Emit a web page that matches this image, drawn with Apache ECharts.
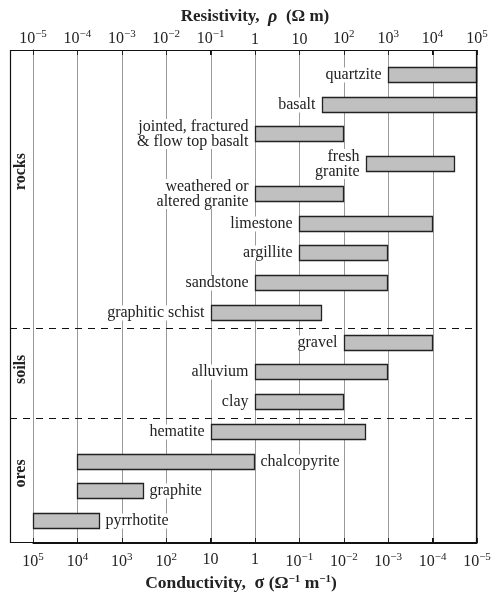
<!DOCTYPE html>
<html><head><meta charset="utf-8">
<script src="https://cdn.jsdelivr.net/npm/echarts@6/dist/echarts.min.js"></script>
<style>html,body{margin:0;padding:0;background:#fff}#c{width:495px;height:596px}</style>
</head><body><div id="c"></div>
<script>
// ---- data ----
const materials = ['quartzite', 'basalt', 'jointed, fractured\n& flow top basalt', 'fresh\ngranite',
  'weathered or\naltered granite', 'limestone', 'argillite', 'sandstone', 'graphitic schist',
  'gravel', 'alluvium', 'clay', 'hematite', 'chalcopyrite', 'graphite', 'pyrrhotite'];
// resistivity range, ohm metres
const resistivityMin = [1e3, 31.6, 1, 316, 1, 10, 10, 1, 0.1, 100, 1, 1, 0.1, 1e-4, 1e-4, 1e-5];
const resistivityMax = [1e5, 1e5, 100, 3.16e4, 100, 1e4, 1000, 1000, 31.6, 1e4, 1000, 100, 316, 1, 3.16e-3, 3.16e-4];
const labelSide = ['left','left','left','left','left','left','left','left','left','left','left','left','left','right','right','right'];
const groups = ['rocks', 'soils', 'ores'];
const groupCenter = [3.25, 9.9, 13.4];
const separators = [8.5, 11.55];
const exponents = [-5, -4, -3, -2, -1, 0, 1, 2, 3, 4, 5];

const FONT = "'Liberation Serif', 'DejaVu Serif', serif";
const SUP = {fontSize: 11, fontFamily: FONT, color: '#222', verticalAlign: 'bottom', padding: [0, 0, 8, 0]};
function powLabel(e) {
  if (e === 0) return '1';
  if (e === 1) return '10';
  return '10{s|' + (e < 0 ? '\u2212' + (-e) : e) + '}';
}
function expOf(v) { return Math.round(Math.log10(v)); }

const chart = echarts.init(document.getElementById('c'), null, {renderer: 'canvas'});
const GL = 33, GR = 477, GT = 50, GB = 543;
const bars = materials.map((m, i) => [resistivityMin[i], resistivityMax[i], i]);

const axisCommon = {
  type: 'log', logBase: 10, min: 1e-5, max: 1e5, interval: 1,
  axisLine: {show: true, onZero: false, lineStyle: {color: '#111', width: 1}},
  axisTick: {show: true, inside: true, length: 5, lineStyle: {color: '#111'}},
  splitLine: {show: false},
  nameLocation: 'middle',
  nameMoveOverlap: false
};

chart.setOption({
  animation: false,
  backgroundColor: '#fff',
  grid: {left: GL, right: 495 - GR, top: GT, bottom: 596 - GB, containLabel: false, outerBoundsMode: 'none'},
  xAxis: [
    Object.assign({}, axisCommon, {
      position: 'top',
      axisLabel: {margin: 2, fontFamily: FONT, fontSize: 16, color: '#222',
        formatter: v => powLabel(expOf(v)), rich: {s: SUP}},
      name: '{b|Resistivity,  }{i|\u03c1}{b|  (\u03a9 m)}',
      nameGap: 24,
      nameTextStyle: {rich: {
        b: {fontFamily: FONT, fontSize: 17, fontWeight: 'bold', color: '#222'},
        i: {fontFamily: FONT, fontSize: 18, fontWeight: 'bold', fontStyle: 'italic', color: '#222'}}}
    }),
    Object.assign({}, axisCommon, {
      position: 'bottom',
      axisLabel: {margin: 9, fontFamily: FONT, fontSize: 16, color: '#222',
        formatter: v => powLabel(-expOf(v)), rich: {s: SUP}},
      name: '{b|Conductivity,  }{i|\u03c3}{b| (\u03a9}{s|\u22121}{b| m}{s|\u22121}{b|)}',
      nameGap: 31,
      nameTextStyle: {padding: [0, 28, 0, 0], rich: {
        b: {fontFamily: FONT, fontSize: 17.5, fontWeight: 'bold', color: '#222'},
        i: {fontFamily: FONT, fontSize: 18, fontWeight: 'bold', color: '#222'},
        s: {fontFamily: FONT, fontSize: 11, fontWeight: 'bold', color: '#222', verticalAlign: 'bottom', padding: [0, 0, 8, 0]}}}
    })
  ],
  yAxis: {
    type: 'value', inverse: true, min: -0.84, max: 15.74,
    axisLine: {show: true, onZero: false, lineStyle: {color: '#111'}},
    axisTick: {show: false}, axisLabel: {show: false}, splitLine: {show: false}
  },
  series: [
    {
      // decade grid lines
      type: 'custom', xAxisIndex: 0, yAxisIndex: 0, clip: false, z: 1, silent: true,
      data: exponents.map(e => [Math.pow(10, e), 0]),
      renderItem(params, api) {
        const cs = params.coordSys;
        const x = Math.round(api.coord([api.value(0), 0])[0]) + 0.5;
        return {type: 'group', children: [
          {type: 'line', shape: {x1: x, y1: cs.y, x2: x, y2: cs.y + cs.height},
           style: {stroke: '#9a9a9a', lineWidth: 1}},
          {type: 'line', shape: {x1: x, y1: cs.y, x2: x, y2: cs.y + 5}, style: {stroke: '#222', lineWidth: 1}},
          {type: 'line', shape: {x1: x, y1: cs.y + cs.height - 5, x2: x, y2: cs.y + cs.height}, style: {stroke: '#222', lineWidth: 1}}
        ]};
      }
    },
    {
      type: 'custom', xAxisIndex: 0, yAxisIndex: 0, clip: false, z: 3,
      encode: {x: [0, 1], y: 2},
      data: bars,
      renderItem(params, api) {
        const idx = params.dataIndex;
        const row = api.value(2);
        const p0 = api.coord([api.value(0), row]);
        const p1 = api.coord([api.value(1), row]);
        const h = 15;
        const x0 = Math.round(p0[0]) + 0.5, x1 = Math.round(p1[0]) - 0.5;
        const yc = Math.round(p0[1]);
        const left = labelSide[idx] === 'left';
        return {type: 'group', children: [
          {type: 'rect', shape: {x: x0, y: yc - h / 2, width: x1 - x0, height: h},
           style: {fill: '#c0c0c0', stroke: '#222', lineWidth: 1.3}},
          {type: 'text', x: left ? x0 - 6 : x1 + 5, y: yc,
           style: {text: materials[idx], align: left ? 'right' : 'left', verticalAlign: 'middle',
             font: '16px ' + FONT, fill: '#222', lineHeight: 15,
             backgroundColor: '#fff', padding: [0, 1, 0, 1]}}
        ]};
      }
    },
    {
      type: 'custom', xAxisIndex: 0, yAxisIndex: 0, clip: false, z: 4, silent: true,
      data: separators.map(v => [1, v]),
      renderItem(params, api) {
        const cs = params.coordSys;
        const y = Math.round(api.coord([1, api.value(1)])[1]) + 0.5;
        return {type: 'line', shape: {x1: cs.x - 23, y1: y, x2: cs.x + cs.width, y2: y},
          style: {stroke: '#111', lineWidth: 1.2, lineDash: [7, 6]}};
      }
    },
    {
      type: 'custom', xAxisIndex: 0, yAxisIndex: 0, clip: false, z: 4, silent: true,
      data: groupCenter.map(v => [1, v]),
      renderItem(params, api) {
        const cs = params.coordSys;
        const y = api.coord([1, api.value(1)])[1];
        return {type: 'text', x: cs.x - 12, y: y, rotation: Math.PI / 2,
          style: {text: groups[params.dataIndex], align: 'center', verticalAlign: 'middle',
            font: 'bold 16px ' + FONT, fill: '#222'}};
      }
    },
    {
      type: 'custom', xAxisIndex: 0, yAxisIndex: 0, clip: false, z: 5, silent: true,
      data: [[1, 0]],
      renderItem(params, api) {
        const cs = params.coordSys;
        return {type: 'rect', shape: {x: cs.x - 23 + 0.5, y: cs.y + 0.5, width: cs.width + 23 - 1, height: cs.height - 1},
          style: {fill: 'none', stroke: '#111', lineWidth: 1.2}};
      }
    }
  ]
});
</script></body></html>
